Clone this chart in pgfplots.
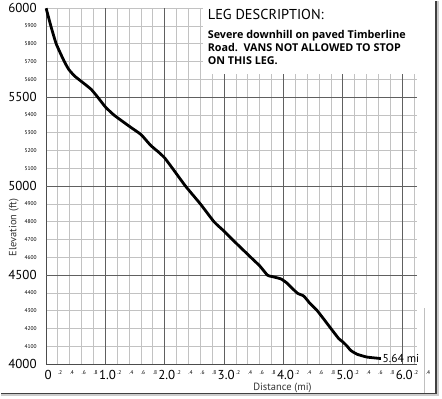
\documentclass[border=0pt]{standalone}
\usepackage{pgfplots}
\pgfplotsset{compat=1.18}
\usepackage{fontspec}
\setmainfont{PT Sans}
\newfontfamily\descfont{Open Sans}
\definecolor{majg}{HTML}{606060}
\definecolor{ming}{HTML}{C2C2C2}
\newcommand\B[1]{{\fontsize{13}{14}\selectfont #1}}
\newcommand\Sm[1]{{\fontsize{5.5}{6}\selectfont #1}}
\begin{document}
\begin{tikzpicture}
\begin{scope}[shift={(-45pt,-34pt)}, x=1pt, y=1pt]
\useasboundingbox (0,0) rectangle (442,398);
\end{scope}
\begin{axis}[
  anchor=south west,
  width=372pt, height=357pt, scale only axis,
  xmin=0, xmax=6.25, ymin=4000, ymax=6000,
  clip=false,
  axis x line*=bottom, axis y line*=left,
  axis line style={-, draw=black!70, line width=1pt},
  major tick length=0pt,
  xtick={0,0.2,0.4,0.6,0.8,1,1.2,1.4,1.6,1.8,2,2.2,2.4,2.6,2.8,3,3.2,3.4,3.6,3.8,4,4.2,4.4,4.6,4.8,5,5.2,5.4,5.6,5.8,6,6.2},
  xticklabels={\B{0},\Sm{.2},\Sm{.4},\Sm{.6},\Sm{.8},\B{1.0},\Sm{.2},\Sm{.4},\Sm{.6},\Sm{.8},\B{2.0},\Sm{.2},\Sm{.4},\Sm{.6},\Sm{.8},\B{3.0},\Sm{.2},\Sm{.4},\Sm{.6},\Sm{.8},\B{4.0},\Sm{.2},\Sm{.4},\Sm{.6},\Sm{.8},\B{5.0},\Sm{.2},\Sm{.4},\Sm{.6},\Sm{.8},\B{6.0},\Sm{.2}},
  ytick={4000,4100,4200,4300,4400,4500,4600,4700,4800,4900,5000,5100,5200,5300,5400,5500,5600,5700,5800,5900,6000},
  yticklabels={\B{4000},\Sm{4100},\Sm{4200},\Sm{4300},\Sm{4400},\B{4500},\Sm{4600},\Sm{4700},\Sm{4800},\Sm{4900},\B{5000},\Sm{5100},\Sm{5200},\Sm{5300},\Sm{5400},\B{5500},\Sm{5600},\Sm{5700},\Sm{5800},\Sm{5900},\B{6000}},
  xticklabel style={anchor=north, yshift=-2.5pt, xshift=2pt},
  yticklabel style={anchor=east, xshift=-6pt},
  grid=major,
  major grid style={draw=ming, line width=1pt},
  extra x ticks={1,2,3,4,5,6}, extra x tick labels={},
  extra y ticks={4500,5000,5500}, extra y tick labels={},
  extra tick style={grid=major, major grid style={draw=majg, line width=1pt}},
]
\addplot[black, line width=2.8pt, smooth, tension=0.3, line join=round] coordinates {
(0,6000) (0.08,5900) (0.17,5800) (0.3,5705) (0.38,5657) (0.48,5619) (0.62,5582) (0.76,5544) (0.87,5500)
(1.0,5445) (1.15,5398) (1.43,5330) (1.6,5290) (1.76,5230) (1.9,5190) (2.0,5158) (2.13,5100)
(2.35,5000) (2.6,4900) (2.83,4800) (3.0,4747) (3.14,4700) (3.45,4600) (3.6,4552) (3.73,4500)
(3.8,4493) (3.95,4480) (4.05,4458) (4.23,4400) (4.34,4383) (4.45,4340) (4.57,4300) (4.8,4200)
(4.93,4144) (5.0,4125) (5.07,4102) (5.13,4078) (5.24,4056) (5.41,4040) (5.64,4032)};
\node[anchor=west, font=\fontsize{11.5}{12}\selectfont, inner sep=1pt] at (axis cs:5.65,4032) {5.64 mi};
\node[anchor=north, yshift=-2.5pt, xshift=2pt] at (axis cs:6.4,4000) {\Sm{.4}};
\end{axis}
\begin{scope}[shift={(-45pt,-34pt)}, x=1pt, y=1pt]
\fill[white] (202,325) rectangle (421,398);
\node[anchor=base west, inner sep=0pt, font=\fontsize{14.4}{15}\selectfont] at (207,379.7) {LEG DESCRIPTION:};
\node[anchor=base west, inner sep=0pt, font=\descfont\bfseries\fontsize{10.8}{12}\selectfont] at (207,360.3) {Severe downhill on paved Timberline};
\node[anchor=base west, inner sep=0pt, font=\descfont\bfseries\fontsize{10.8}{12}\selectfont] at (207,348) {Road.\ \ VANS NOT ALLOWED TO STOP};
\node[anchor=base west, inner sep=0pt, font=\descfont\bfseries\fontsize{10.8}{12}\selectfont] at (207,334.5) {ON THIS LEG.};
\node[rotate=90, font=\fontsize{10.5}{11}\selectfont, text=black!80] at (12.5,171) {Elevation (ft)};
\node[font=\fontsize{10.5}{11}\selectfont, text=black!80] at (282,10.3) {Distance (mi)};
\draw[black!25, line width=0.8pt] (424,5) -- (424,90);
\draw[black!20, line width=2.5pt] (0,3.5) -- (438,3.5) -- (438,398);
\draw[black!75, line width=1.2pt] (0,5) -- (436,5) -- (436,398);
\end{scope}
\end{tikzpicture}
\end{document}
